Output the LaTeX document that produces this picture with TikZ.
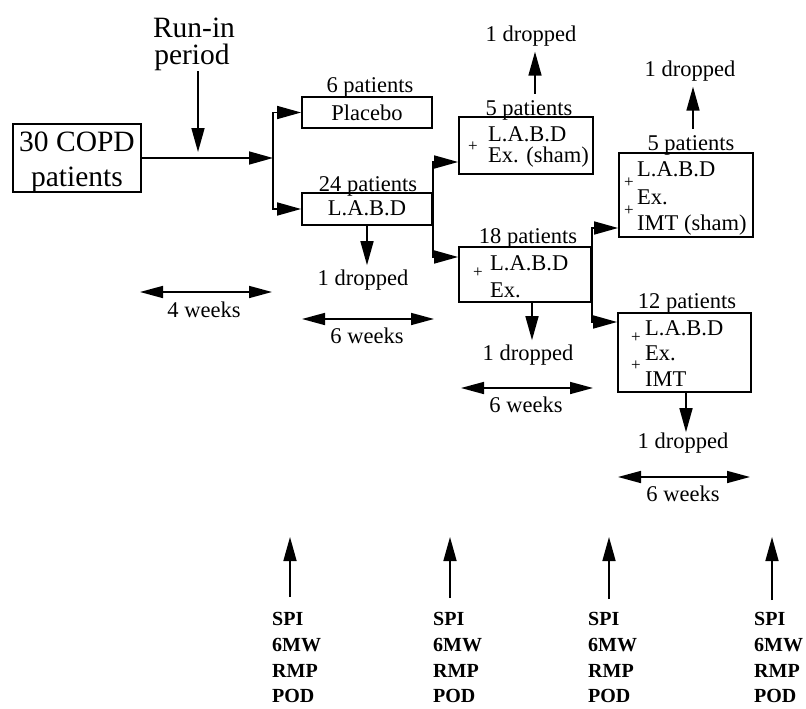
\documentclass[tikz,border=0pt]{standalone}
\usepackage{fontspec}
\setmainfont{Liberation Serif}
\usetikzlibrary{arrows.meta,calc}
\begin{document}
\begin{tikzpicture}[x=1pt,y=-1pt,
  box/.style={draw,line width=1.8pt,inner sep=0pt},
  txt/.style={inner sep=0pt,font=\fontsize{22.5}{25}\selectfont},
  big/.style={inner sep=0pt,font=\fontsize{29.5}{31}\selectfont},
  plus/.style={inner sep=0pt,font=\fontsize{17}{17}\selectfont},
  meas/.style={inner sep=0pt,align=left,font=\fontsize{20}{25.8}\selectfont\bfseries},
  arr/.style={line width=1.6pt,-{Triangle[length=24pt,width=13pt]}},
  dbl/.style={line width=1.6pt,{Triangle[length=23pt,width=12pt]}-{Triangle[length=23pt,width=12pt]}},
]
\fill[white] (0,0) rectangle (806,709);
\useasboundingbox (0,0) rectangle (806,709);

% run-in
\node[big,anchor=base] (run1) at (194,38) {Run-in};
\node[big,anchor=base] (run2) at (192,65) {period};
\coordinate (runtip) at (198,152);
\draw[arr] (run2.south -| runtip) -- (runtip);

% COPD
\node[box,minimum width=128pt,minimum height=68pt] (copd) at (77,158) {};
\node[big,anchor=base] (copdA) at (77,151.7) {30 COPD};
\node[big,anchor=base] (copdB) at (77,186) {patients};
\coordinate (split1) at (273,158);
\draw[arr] (copd.east) -- (split1);

% placebo / LABD
\node[box,minimum width=130pt,minimum height=31pt] (placebo) at (367,112.5) {};
\node[txt,anchor=base] (placeboT) at (367,120) {Placebo};
\node[txt,anchor=base] (lab6) at (370,92.7) {6 patients};
\node[box,minimum width=130pt,minimum height=32pt] (labd) at (367,209) {};
\node[txt,anchor=base] (labdT) at (367,215) {L.A.B.D};
\node[txt,anchor=base] (lab24) at (368,191.7) {24 patients};
\draw[arr] (split1) |- (placebo.west);
\draw[arr] (split1) |- (labd.west);
\node[txt,anchor=base] (drop1) at (363,285) {1 dropped};
\draw[arr] (labd.south) -- ([yshift=4pt]labd.south |- drop1.north);

% Ex sham
\node[box,minimum width=134pt,minimum height=57pt] (exsham) at (526,145.5) {};
\node[plus] (p1) at (473,147) {+};
\node[txt,anchor=base west] (exshamA) at (488,141.7) {L.A.B.D};
\node[txt,anchor=base west] (exshamB) at (488,162.5) {Ex. (sham)};
\node[txt,anchor=base] (lab5a) at (529,115) {5 patients};
\node[txt,anchor=base] (drop2) at (531,41.7) {1 dropped};
\draw[arr] ([xshift=6pt,yshift=6pt]lab5a.north) -- ([xshift=4pt,yshift=-5pt]drop2.south);

% Ex 18
\node[box,minimum width=132pt,minimum height=55pt] (ex18) at (525,274.5) {};
\node[plus] (p2) at (478,273) {+};
\node[txt,anchor=base west] (ex18A) at (490,270) {L.A.B.D};
\node[txt,anchor=base west] (ex18B) at (490,297.3) {Ex.};
\node[txt,anchor=base] (lab18) at (528,243) {18 patients};
\node[txt,anchor=base] (drop3) at (528,360) {1 dropped};
\draw[arr] ([xshift=7pt]ex18.south) -- ([xshift=4pt,yshift=4pt]drop3.north);

\draw[arr] (labd.east) |- ([yshift=-16.5pt]exsham.west);
\draw[arr] (labd.east) |- ([yshift=17.5pt]ex18.west);

% IMT sham
\node[box,minimum width=134pt,minimum height=84pt] (imtsham) at (686,195) {};
\node[plus] (p3) at (629,183) {+};
\node[plus] (p4) at (629,211) {+};
\node[txt,anchor=base west] (imtshamA) at (637,176.7) {L.A.B.D};
\node[txt,anchor=base west] (imtshamB) at (637,204) {Ex.};
\node[txt,anchor=base west] (imtshamC) at (637,230) {IMT (sham)};
\node[txt,anchor=base] (lab5b) at (691,150) {5 patients};
\node[txt,anchor=base] (drop4) at (690,76.7) {1 dropped};
\draw[arr] ([xshift=2pt,yshift=6pt]lab5b.north) -- ([xshift=3pt,yshift=-5pt]drop4.south);

% IMT 12
\node[box,minimum width=133pt,minimum height=79pt] (imt12) at (684.5,352.5) {};
\node[plus] (p5) at (636,338) {+};
\node[plus] (p6) at (636,366) {+};
\node[txt,anchor=base west] (imt12A) at (645,335) {L.A.B.D};
\node[txt,anchor=base west] (imt12B) at (645,360.7) {Ex.};
\node[txt,anchor=base west] (imt12C) at (645,386.7) {IMT};
\node[txt,anchor=base] (lab12) at (687,308) {12 patients};
\node[txt,anchor=base] (drop5) at (683,448) {1 dropped};
\draw[arr] ([xshift=1.5pt]imt12.south) -- ([xshift=3pt]drop5.north);

\draw[arr] (ex18.east) |- ([yshift=-33pt]imtsham.west);
\draw[arr] (ex18.east) |- ([yshift=30.5pt]imt12.west);

% weeks
\node[txt,anchor=base] (w1) at (204,317) {4 weeks};
\coordinate (w1a) at (140,292); \coordinate (w1b) at (272,292);
\draw[dbl] (w1a) -- (w1b);
\node[txt,anchor=base] (w2) at (367,343) {6 weeks};
\coordinate (w2a) at (302,319); \coordinate (w2b) at (434,319);
\draw[dbl] (w2a) -- (w2b);
\node[txt,anchor=base] (w3) at (526,412) {6 weeks};
\coordinate (w3a) at (461,388); \coordinate (w3b) at (593,388);
\draw[dbl] (w3a) -- (w3b);
\node[txt,anchor=base] (w4) at (683,501) {6 weeks};
\coordinate (w4a) at (618,477); \coordinate (w4b) at (750,477);
\draw[dbl] (w4a) -- (w4b);

% measurements
\node[meas,anchor=north west] (m1) at (272,612) {SPI\\6MW\\RMP\\POD};
\node[meas,anchor=north west] (m2) at (433,612) {SPI\\6MW\\RMP\\POD};
\node[meas,anchor=north west] (m3) at (588,612) {SPI\\6MW\\RMP\\POD};
\node[meas,anchor=north west] (m4) at (754,612) {SPI\\6MW\\RMP\\POD};
\coordinate (t1) at (290,537); \coordinate (t2) at (450,537);
\coordinate (t3) at (609,537); \coordinate (t4) at (772,537);
\draw[arr] ([yshift=15pt]m1.north -| t1) -- (t1);
\draw[arr] ([yshift=14pt]m2.north -| t2) -- (t2);
\draw[arr] ([yshift=13pt]m3.north -| t3) -- (t3);
\draw[arr] ([yshift=12pt]m4.north -| t4) -- (t4);
\end{tikzpicture}
\end{document}
